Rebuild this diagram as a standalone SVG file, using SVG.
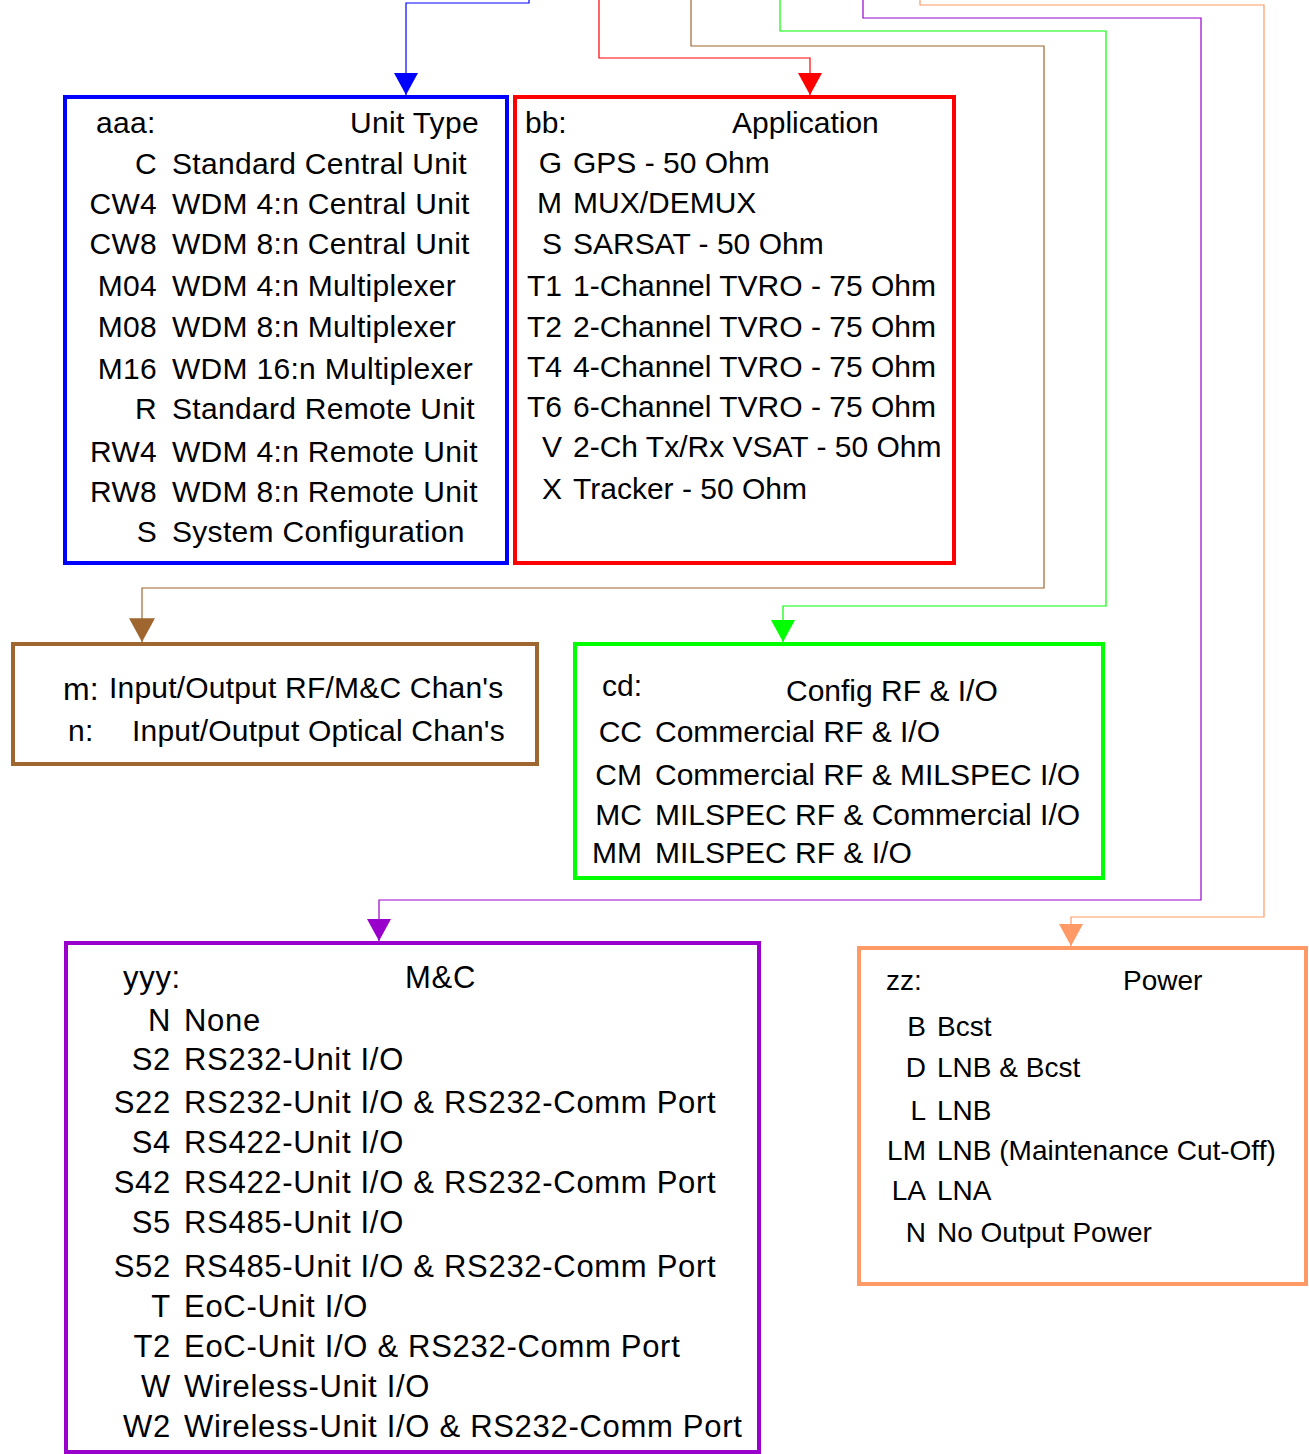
<svg xmlns="http://www.w3.org/2000/svg" width="1309" height="1454" viewBox="0 0 1309 1454">
<style>
text{font-family:"Liberation Sans",Arial,sans-serif;fill:#000}
.t30{font-size:30px}
.blue{font-size:30px;letter-spacing:0.3px}
.brn{font-size:30px;letter-spacing:0.2px}
.pur{font-size:31px;letter-spacing:0.7px}
.org{font-size:28px}
.c{text-anchor:end}
.box{fill:#fff;stroke-width:4}
.conn{fill:none;stroke-width:1.2}
</style>
<defs>
<marker id="aB" viewBox="0 0 22 24" refX="22" refY="12" markerWidth="22" markerHeight="24" markerUnits="userSpaceOnUse" orient="auto"><path d="M0,0 L22,12 L0,24 z" fill="#0000FF"/></marker>
<marker id="aR" viewBox="0 0 22 24" refX="22" refY="12" markerWidth="22" markerHeight="24" markerUnits="userSpaceOnUse" orient="auto"><path d="M0,0 L22,12 L0,24 z" fill="#FF0000"/></marker>
<marker id="aN" viewBox="0 0 22 24" refX="22" refY="12" markerWidth="25" markerHeight="26" markerUnits="userSpaceOnUse" orient="auto"><path d="M0,0 L22,12 L0,24 z" fill="#A0662F"/></marker>
<marker id="aG" viewBox="0 0 22 24" refX="22" refY="12" markerWidth="22" markerHeight="24" markerUnits="userSpaceOnUse" orient="auto"><path d="M0,0 L22,12 L0,24 z" fill="#00FF00"/></marker>
<marker id="aP" viewBox="0 0 22 24" refX="22" refY="12" markerWidth="22" markerHeight="24" markerUnits="userSpaceOnUse" orient="auto"><path d="M0,0 L22,12 L0,24 z" fill="#9900CC"/></marker>
<marker id="aO" viewBox="0 0 22 24" refX="22" refY="12" markerWidth="22" markerHeight="24" markerUnits="userSpaceOnUse" orient="auto"><path d="M0,0 L22,12 L0,24 z" fill="#FF9966"/></marker>
</defs>
<rect width="1309" height="1454" fill="#fff"/>

<g id="connectors">
<path class="conn" stroke="#0000FF" d="M529,0 V3 H406 V95" marker-end="url(#aB)"/>
<path class="conn" stroke="#FF0000" d="M599,0 V58 H810 V95" marker-end="url(#aR)"/>
<path class="conn" stroke="#A0662F" d="M691,0 V46 H1044 V588 H142 V642" marker-end="url(#aN)"/>
<path class="conn" stroke="#00FF00" d="M780,0 V31 H1106 V606 H783 V642" marker-end="url(#aG)"/>
<path class="conn" stroke="#9900CC" d="M863,0 V18 H1201 V900 H379 V941" marker-end="url(#aP)"/>
<path class="conn" stroke="#FF9966" d="M920,0 V5 H1264 V917 H1071 V946" marker-end="url(#aO)"/>
</g>

<g id="unit-type">
<rect class="box" stroke="#0000FF" x="65" y="97" width="442" height="466"/>
<text class="blue" x="96" y="133">aaa:</text>
<text class="blue" x="350" y="133">Unit Type</text>
<text class="blue c" x="157" y="174">C</text><text class="blue" x="172" y="174">Standard Central Unit</text>
<text class="blue c" x="157" y="214">CW4</text><text class="blue" x="172" y="214">WDM 4:n Central Unit</text>
<text class="blue c" x="157" y="254">CW8</text><text class="blue" x="172" y="254">WDM 8:n Central Unit</text>
<text class="blue c" x="157" y="296">M04</text><text class="blue" x="172" y="296">WDM 4:n Multiplexer</text>
<text class="blue c" x="157" y="337">M08</text><text class="blue" x="172" y="337">WDM 8:n Multiplexer</text>
<text class="blue c" x="157" y="379">M16</text><text class="blue" x="172" y="379">WDM 16:n Multiplexer</text>
<text class="blue c" x="157" y="419">R</text><text class="blue" x="172" y="419">Standard Remote Unit</text>
<text class="blue c" x="157" y="462">RW4</text><text class="blue" x="172" y="462">WDM 4:n Remote Unit</text>
<text class="blue c" x="157" y="502">RW8</text><text class="blue" x="172" y="502">WDM 8:n Remote Unit</text>
<text class="blue c" x="157" y="542">S</text><text class="blue" x="172" y="542">System Configuration</text>
</g>

<g id="application">
<rect class="box" stroke="#FF0000" x="515" y="97" width="439" height="466"/>
<text class="t30" x="525" y="133">bb:</text>
<text class="t30" x="732" y="133">Application</text>
<text class="t30 c" x="562" y="173">G</text><text class="t30" x="573" y="173">GPS - 50 Ohm</text>
<text class="t30 c" x="562" y="213">M</text><text class="t30" x="573" y="213">MUX/DEMUX</text>
<text class="t30 c" x="562" y="254">S</text><text class="t30" x="573" y="254">SARSAT - 50 Ohm</text>
<text class="t30 c" x="562" y="296">T1</text><text class="t30" x="573" y="296">1-Channel TVRO - 75 Ohm</text>
<text class="t30 c" x="562" y="337">T2</text><text class="t30" x="573" y="337">2-Channel TVRO - 75 Ohm</text>
<text class="t30 c" x="562" y="377">T4</text><text class="t30" x="573" y="377">4-Channel TVRO - 75 Ohm</text>
<text class="t30 c" x="562" y="417">T6</text><text class="t30" x="573" y="417">6-Channel TVRO - 75 Ohm</text>
<text class="t30 c" x="562" y="457">V</text><text class="t30" x="573" y="457">2-Ch Tx/Rx VSAT - 50 Ohm</text>
<text class="t30 c" x="562" y="499">X</text><text class="t30" x="573" y="499">Tracker - 50 Ohm</text>
</g>

<g id="channels">
<rect class="box" stroke="#A0662F" x="13" y="644" width="524" height="120"/>
<text x="63" y="700" style="font-size:32px">m:</text>
<text class="brn" x="109" y="698">Input/Output RF/M&amp;C Chan's</text>
<text class="brn" x="68" y="741">n:</text>
<text class="brn" x="132" y="741">Input/Output Optical Chan's</text>
</g>

<g id="config">
<rect class="box" stroke="#00FF00" x="575" y="644" width="528" height="234"/>
<text class="t30" x="602" y="696">cd:</text>
<text class="t30" x="786" y="701">Config RF &amp; I/O</text>
<text class="t30 c" x="642" y="742">CC</text><text class="t30" x="655" y="742">Commercial RF &amp; I/O</text>
<text class="t30 c" x="642" y="785">CM</text><text class="t30" x="655" y="785">Commercial RF &amp; MILSPEC I/O</text>
<text class="t30 c" x="642" y="825">MC</text><text class="t30" x="655" y="825">MILSPEC RF &amp; Commercial I/O</text>
<text class="t30 c" x="642" y="863">MM</text><text class="t30" x="655" y="863">MILSPEC RF &amp; I/O</text>
</g>

<g id="mc">
<rect class="box" stroke="#9900CC" x="66" y="943" width="693" height="509"/>
<text class="pur" x="123" y="988">yyy:</text>
<text class="pur" x="405" y="988">M&amp;C</text>
<text class="pur c" x="171" y="1031">N</text><text class="pur" x="184" y="1031">None</text>
<text class="pur c" x="171" y="1070">S2</text><text class="pur" x="184" y="1070">RS232-Unit I/O</text>
<text class="pur c" x="171" y="1113">S22</text><text class="pur" x="184" y="1113">RS232-Unit I/O &amp; RS232-Comm Port</text>
<text class="pur c" x="171" y="1153">S4</text><text class="pur" x="184" y="1153">RS422-Unit I/O</text>
<text class="pur c" x="171" y="1193">S42</text><text class="pur" x="184" y="1193">RS422-Unit I/O &amp; RS232-Comm Port</text>
<text class="pur c" x="171" y="1233">S5</text><text class="pur" x="184" y="1233">RS485-Unit I/O</text>
<text class="pur c" x="171" y="1277">S52</text><text class="pur" x="184" y="1277">RS485-Unit I/O &amp; RS232-Comm Port</text>
<text class="pur c" x="171" y="1317">T</text><text class="pur" x="184" y="1317">EoC-Unit I/O</text>
<text class="pur c" x="171" y="1357">T2</text><text class="pur" x="184" y="1357">EoC-Unit I/O &amp; RS232-Comm Port</text>
<text class="pur c" x="171" y="1397">W</text><text class="pur" x="184" y="1397">Wireless-Unit I/O</text>
<text class="pur c" x="171" y="1437">W2</text><text class="pur" x="184" y="1437">Wireless-Unit I/O &amp; RS232-Comm Port</text>
</g>

<g id="power">
<rect class="box" stroke="#FF9966" x="859" y="948" width="447" height="336"/>
<text class="org" x="886" y="990">zz:</text>
<text class="org" x="1123" y="990">Power</text>
<text class="org c" x="926" y="1036">B</text><text class="org" x="937" y="1036">Bcst</text>
<text class="org c" x="926" y="1077">D</text><text class="org" x="937" y="1077">LNB &amp; Bcst</text>
<text class="org c" x="926" y="1120">L</text><text class="org" x="937" y="1120">LNB</text>
<text class="org c" x="926" y="1160">LM</text><text class="org" x="937" y="1160">LNB (Maintenance Cut-Off)</text>
<text class="org c" x="926" y="1200">LA</text><text class="org" x="937" y="1200">LNA</text>
<text class="org c" x="926" y="1242">N</text><text class="org" x="937" y="1242">No Output Power</text>
</g>
</svg>
